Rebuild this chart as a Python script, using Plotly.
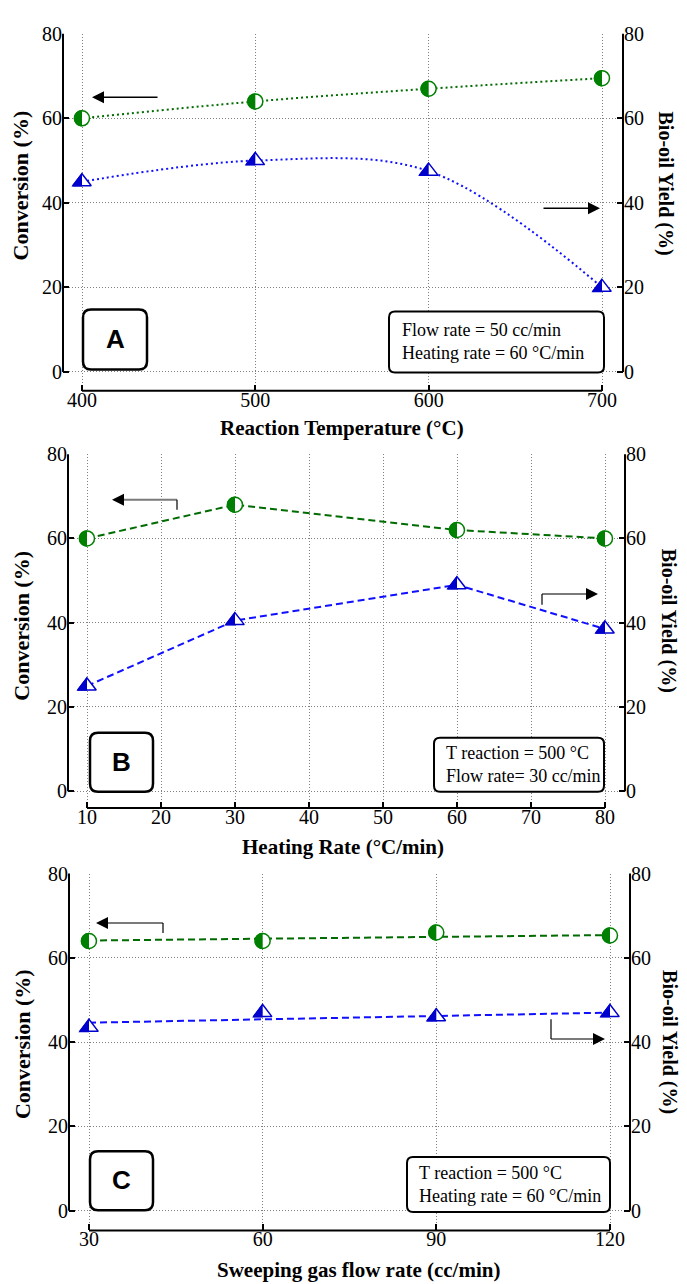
import plotly.graph_objects as go

W, H = 687, 1284

# ---------------- data ----------------
temp_x = [400, 500, 600, 700]
temp_conversion = [60, 64, 67, 69.5]
temp_yield = [45, 50, 47.5, 20]

heat_x = [10, 30, 60, 80]
heat_conversion = [60, 68, 62, 60]
heat_yield = [25, 40.5, 49, 38.5]

flow_x = [30, 60, 90, 120]
flow_conversion = [64, 64, 66, 65.3]
flow_yield = [43.5, 47, 46, 47]
flow_fit_x = [30, 120]
flow_fit_conversion = [64.1, 65.4]
flow_fit_yield = [44.6, 47.0]

y_ticks = [0, 20, 40, 60, 80]
temp_ticks = [400, 500, 600, 700]
heat_ticks = [10, 20, 30, 40, 50, 60, 70, 80]
flow_ticks = [30, 60, 90, 120]

x_titles = ["Reaction Temperature (°C)", "Heating Rate (°C/min)",
            "Sweeping gas flow rate (cc/min)"]
left_title = "Conversion (%)"
right_title = "Bio-oil Yield (%)"
panel_letters = ["A", "B", "C"]
info_texts = [["Flow rate = 50 cc/min", "Heating rate = 60 °C/min"],
              ["T reaction = 500 °C", "Flow rate= 30 cc/min"],
              ["T reaction = 500 °C", "Heating rate = 60 °C/min"]]

# ---------------- styles / geometry (pixels) ----------------
GREEN = "#008000"
GREEN_LINE = "#006b00"
BLUE = "#0000cd"
BLUE_LINE = "#1010ff"
GRID = "#7f7f7f"
SERIF = "Liberation Serif"
SANS = "Liberation Sans"

panels = [
    dict(x=temp_x, conv=temp_conversion, yld=temp_yield, ticks=temp_ticks,
         xlo=400, xhi=700, pxlo=82, pxhi=602, left=63, right=623,
         top=23, zero=364, xaxis=383, dash="2px,3px", spline=True,
         xt=(342, 421), lt=(20, 176), rt=(665, 174),
         letter=(83, 301, 147, 361), info=(389, 303, 604, 364), info_x=400,
         arrows=[dict(tip=(92, 87), tail=(159, 87), hook=None),
                 dict(tip=(600, 199), tail=(542, 199), hook=None)]),
    dict(x=heat_x, conv=heat_conversion, yld=heat_yield, ticks=heat_ticks,
         xlo=10, xhi=80, pxlo=87, pxhi=605, left=68, right=625,
         top=447, zero=787, xaxis=804, dash="7px,4px", spline=False,
         xt=(343, 843), lt=(22, 620), rt=(668, 615),
         letter=(90, 728, 153, 787), info=(434, 733, 604, 787), info_x=444,
         arrows=[dict(tip=(112, 493), tail=(177, 493), hook=503),
                 dict(tip=(598, 588), tail=(542, 588), hook=599)]),
    dict(x=flow_x, conv=flow_conversion, yld=flow_yield, ticks=flow_ticks,
         xlo=30, xhi=120, pxlo=89, pxhi=610, left=69, right=630,
         top=870, zero=1210, xaxis=1230, dash="7px,4px", spline=False,
         fit=True,
         xt=(358, 1270), lt=(22, 1042), rt=(670, 1040),
         letter=(90, 1150, 153, 1209), info=(407, 1156, 610, 1211), info_x=417,
         arrows=[dict(tip=(96, 920), tail=(163, 920), hook=930),
                 dict(tip=(605, 1037), tail=(551, 1037), hook=1017)]),
]


def fx(px):
    return px / W


def fy(py):
    return 1 - py / H


def half_circle(r):
    k = 0.5523 * r
    return (f"M 0,{r} C {-k},{r} {-r},{k} {-r},0 "
            f"C {-r},{-k} {-k},{-r} 0,{-r} Z")


def half_triangle(size):
    r = size / 2
    rt = r * 2 / 3 ** 0.5
    return f"M 0,{r + 1.3} L {-rt - 1.3},{-r / 2 - 0.8} L 0,{-r / 2 - 0.8} Z"


def rounded_rect(w, h, r):
    return (f"M {r},0 L {w - r},0 Q {w},0 {w},{-r} L {w},{-(h - r)} "
            f"Q {w},{-h} {w - r},{-h} L {r},{-h} Q 0,{-h} 0,{-(h - r)} "
            f"L 0,{-r} Q 0,0 {r},0 Z")


fig = go.Figure()
shapes = []
annotations = []
layout = {}

CIRCLE_SIZE = 15
TRI_SIZE = 16

for i, p in enumerate(panels):
    n = i + 1
    xname = "x" if n == 1 else f"x{n}"
    yl = f"y{2 * n - 1}" if n > 1 else "y"
    yr = f"y{2 * n}"
    xkey = "xaxis" if n == 1 else f"xaxis{n}"
    ylkey = "yaxis" if n == 1 else f"yaxis{2 * n - 1}"
    yrkey = f"yaxis{2 * n}"

    sx = (p["pxhi"] - p["pxlo"]) / (p["xhi"] - p["xlo"])
    xr = [p["xlo"] - (p["pxlo"] - p["left"]) / sx,
          p["xhi"] + (p["right"] - p["pxhi"]) / sx]
    sy = (p["zero"] - p["top"]) / 80
    yrng = [-(p["xaxis"] - p["zero"]) / sy, 80]

    tickfont = dict(family=SERIF, size=20, color="black")
    layout[xkey] = dict(domain=[fx(p["left"]), fx(p["right"])], range=xr,
                        anchor=yl, tickvals=p["ticks"], ticks="inside",
                        ticklen=6, tickwidth=2, tickcolor="black",
                        showgrid=True, gridcolor=GRID, griddash="1px,2px",
                        gridwidth=1, zeroline=False, showline=False,
                        tickfont=tickfont, ticklabelstandoff=-5,
                        fixedrange=True)
    ydom = [fy(p["xaxis"]), fy(p["top"])]
    layout[ylkey] = dict(domain=ydom, range=yrng, anchor=xname,
                         tickvals=y_ticks, ticks="inside", ticklen=6,
                         tickwidth=2, tickcolor="black", showgrid=True,
                         gridcolor=GRID, griddash="1px,2px", gridwidth=1,
                         zeroline=False, showline=False, tickfont=tickfont,
                         fixedrange=True)
    layout[yrkey] = dict(overlaying=yl, side="right", anchor=xname,
                         range=yrng, tickvals=y_ticks, ticks="inside",
                         ticklen=6, tickwidth=2, tickcolor="black",
                         showgrid=False, zeroline=False, showline=False,
                         tickfont=tickfont, fixedrange=True)

    shape_kind = "spline" if p["spline"] else "linear"
    if p.get("fit"):
        fig.add_trace(go.Scatter(x=flow_fit_x, y=flow_fit_conversion,
                                 mode="lines", xaxis=xname, yaxis=yl,
                                 line=dict(color=GREEN_LINE, width=2,
                                           dash=p["dash"]),
                                 showlegend=False))
        fig.add_trace(go.Scatter(x=flow_fit_x, y=flow_fit_yield,
                                 mode="lines", xaxis=xname, yaxis=yr,
                                 line=dict(color=BLUE_LINE, width=2,
                                           dash=p["dash"]),
                                 showlegend=False))
        conv_mode = "markers"
    else:
        conv_mode = "lines+markers"

    fig.add_trace(go.Scatter(
        x=p["x"], y=p["conv"], mode=conv_mode, xaxis=xname, yaxis=yl,
        line=dict(color=GREEN_LINE, width=2, dash=p["dash"],
                  shape=shape_kind),
        marker=dict(symbol="circle", size=CIRCLE_SIZE, color="white",
                    line=dict(color=GREEN, width=1.5)),
        showlegend=False, cliponaxis=False))
    fig.add_trace(go.Scatter(
        x=p["x"], y=p["yld"], mode=conv_mode, xaxis=xname, yaxis=yr,
        line=dict(color=BLUE_LINE, width=2, dash=p["dash"],
                  shape=shape_kind),
        marker=dict(symbol="triangle-up", size=TRI_SIZE, color="white",
                    line=dict(color=BLUE, width=1.5)),
        showlegend=False, cliponaxis=False))

    for xv, yv in zip(p["x"], p["conv"]):
        shapes.append(dict(type="path", xref=xname, yref=yl,
                           xsizemode="pixel", ysizemode="pixel",
                           xanchor=xv, yanchor=yv,
                           path=half_circle(CIRCLE_SIZE / 2 + 0.75),
                           fillcolor=GREEN, line=dict(width=0),
                           layer="above"))
    for xv, yv in zip(p["x"], p["yld"]):
        shapes.append(dict(type="path", xref=xname, yref=yr,
                           xsizemode="pixel", ysizemode="pixel",
                           xanchor=xv, yanchor=yv,
                           path=half_triangle(TRI_SIZE),
                           fillcolor=BLUE, line=dict(width=0),
                           layer="above"))

    line_style = dict(color="black", width=2)
    shapes.append(dict(type="line", xref="paper", yref="paper",
                       x0=fx(p["pxlo"]), x1=fx(p["pxhi"]),
                       y0=fy(p["xaxis"]), y1=fy(p["xaxis"]), line=line_style))
    for px in (p["left"], p["right"]):
        shapes.append(dict(type="line", xref="paper", yref="paper",
                           x0=fx(px), x1=fx(px), y0=fy(p["top"]),
                           y1=fy(p["zero"]), line=line_style))

    annotations.append(dict(text=f"<b>{x_titles[i]}</b>", xref="paper",
                            yref="paper", x=fx(p["xt"][0]), y=fy(p["xt"][1]),
                            xanchor="center", yanchor="middle",
                            showarrow=False,
                            font=dict(family=SERIF, size=21, color="black")))
    annotations.append(dict(text=f"<b>{left_title}</b>", xref="paper",
                            yref="paper", x=fx(p["lt"][0]), y=fy(p["lt"][1]),
                            xanchor="center", yanchor="middle",
                            showarrow=False, textangle=-90,
                            font=dict(family=SERIF, size=22, color="black")))
    annotations.append(dict(text=f"<b>{right_title}</b>", xref="paper",
                            yref="paper", x=fx(p["rt"][0]), y=fy(p["rt"][1]),
                            xanchor="center", yanchor="middle",
                            showarrow=False, textangle=90,
                            font=dict(family=SERIF, size=20, color="black")))

    lx0, ly0, lx1, ly1 = p["letter"]
    shapes.append(dict(type="path", xref="paper", yref="paper",
                       xsizemode="pixel", ysizemode="pixel",
                       xanchor=fx(lx0), yanchor=fy(ly0),
                       path=rounded_rect(lx1 - lx0, ly1 - ly0, 8),
                       fillcolor="white", line=dict(color="black", width=2.5),
                       layer="above"))
    annotations.append(dict(text=f"<b>{panel_letters[i]}</b>", xref="paper",
                            yref="paper", x=fx((lx0 + lx1) / 2),
                            y=fy((ly0 + ly1) / 2), xanchor="center",
                            yanchor="middle", showarrow=False,
                            font=dict(family=SANS, size=26, color="black")))

    bx0, by0, bx1, by1 = p["info"]
    shapes.append(dict(type="path", xref="paper", yref="paper",
                       xsizemode="pixel", ysizemode="pixel",
                       xanchor=fx(bx0), yanchor=fy(by0),
                       path=rounded_rect(bx1 - bx0, by1 - by0, 6),
                       fillcolor="white", line=dict(color="black", width=2),
                       layer="above"))
    annotations.append(dict(text="<br>".join(info_texts[i]), xref="paper",
                            yref="paper", x=fx(p["info_x"]),
                            y=fy((by0 + by1) / 2), xanchor="left",
                            yanchor="middle", align="left", showarrow=False,
                            font=dict(family=SERIF, size=18, color="black")))

    for a in p["arrows"]:
        tip, tail = a["tip"], a["tail"]
        if a["hook"] is None:
            annotations.append(dict(x=fx(tip[0]), y=fy(tip[1]), xref="paper",
                                    yref="paper", ax=tail[0] - tip[0],
                                    ay=tail[1] - tip[1], text="",
                                    showarrow=True, arrowhead=2,
                                    arrowsize=1.6, arrowwidth=1.5,
                                    arrowcolor="black"))
        else:
            shapes.append(dict(type="line", xref="paper", yref="paper",
                               x0=fx(tail[0]),
                               x1=fx(tip[0] + (8 if tip[0] < tail[0] else -8)),
                               y0=fy(tail[1]), y1=fy(tip[1]),
                               line=dict(color="#7a7a7a", width=2)))
            shapes.append(dict(type="line", xref="paper", yref="paper",
                               x0=fx(tail[0]), x1=fx(tail[0]),
                               y0=fy(tail[1]), y1=fy(a["hook"]),
                               line=dict(color="black", width=1.2)))
            d = 12 if tail[0] > tip[0] else -12
            annotations.append(dict(x=fx(tip[0]), y=fy(tip[1]), xref="paper",
                                    yref="paper", ax=d, ay=0, text="",
                                    showarrow=True, arrowhead=2,
                                    arrowsize=1.6, arrowwidth=1.5,
                                    arrowcolor="black"))

fig.update_layout(width=W, height=H, margin=dict(l=0, r=0, t=0, b=0),
                  paper_bgcolor="white", plot_bgcolor="white",
                  shapes=shapes, annotations=annotations, showlegend=False,
                  **layout)

fig.write_html("out.html", config={"displayModeBar": False},
               post_script="document.body.style.margin='0';")
